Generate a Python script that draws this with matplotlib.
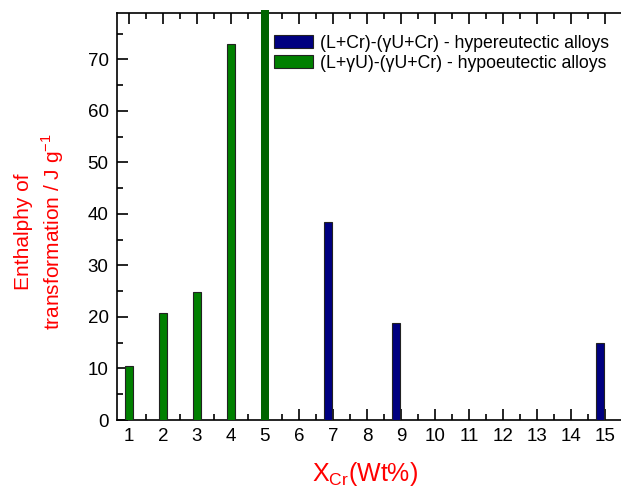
import numpy as np
import matplotlib
matplotlib.use("Agg")
import matplotlib.pyplot as plt
from matplotlib.ticker import MultipleLocator

plt.rcParams['font.family'] = ['Liberation Sans', 'DejaVu Sans']

# data
x_labels = [str(i) for i in range(1, 16)]
hypo_x = [1, 2, 3, 4]
hypo_vals = [10.5, 20.8, 24.9, 73.0]
hypo_over_x = [5]          # off-scale bar, clipped at the top in the original
hypo_over_vals = [79.5]
hyper_x = [7, 9, 15]
hyper_vals = [38.5, 18.8, 15.0]

fig = plt.figure(figsize=(6.21, 4.90), dpi=100)
# axes run past the right edge of the picture, as in the reference crop
ax = fig.add_axes([117/621, 70/490, 510/621, 407/490])

w = 0.24
ax.bar(np.array(hyper_x) - 0.15, hyper_vals, width=w, color='#000080',
       edgecolor='#222222', linewidth=0.8,
       label='(L+Cr)-(γU+Cr) - hypereutectic alloys', zorder=3)
ax.bar(hypo_x, hypo_vals, width=w, color='#008000', edgecolor='#222222',
       linewidth=0.8, label='(L+γU)-(γU+Cr) - hypoeutectic alloys', zorder=3)
ax.bar(hypo_over_x, hypo_over_vals, width=w, color='#006400', linewidth=0,
       clip_on=False, zorder=3)

ax.set_xlim(0.65, 15.65)
ax.set_ylim(0, 79)
ax.set_xticks(range(1, 16))
ax.set_xticklabels(x_labels)
ax.xaxis.set_minor_locator(MultipleLocator(0.5))
ax.yaxis.set_major_locator(MultipleLocator(10))
ax.yaxis.set_minor_locator(MultipleLocator(5))
ax.tick_params(which='both', direction='in', top=True, right=False,
               labelsize=13.5, width=1.2, pad=6)
ax.tick_params(which='major', length=8)
ax.tick_params(which='minor', length=4)
for s in ['left', 'bottom', 'top']:
    ax.spines[s].set_linewidth(1.2)
ax.spines['right'].set_visible(False)

# axis titles placed as in the reference
fig.text(365/621, 1 - 481/490, 'X$_{\\mathregular{Cr}}$(Wt%)', color='red',
         fontsize=18, ha='center', va='baseline')
fig.text(40/621, 1 - 232/490,
         'Enthalphy of\ntransformation / J g$^{\\mathregular{-1}}$',
         color='red', fontsize=15, rotation=90, ha='center', va='center',
         multialignment='center', linespacing=1.3)

fig.legend(loc='upper left', bbox_to_anchor=(274/621, 1 - 35/490),
           frameon=False, fontsize=12.7, handlelength=2.2, handleheight=0.75,
           handletextpad=0.4, labelspacing=0.15, borderaxespad=0,
           borderpad=0)

fig.savefig('out.png', dpi=100)
